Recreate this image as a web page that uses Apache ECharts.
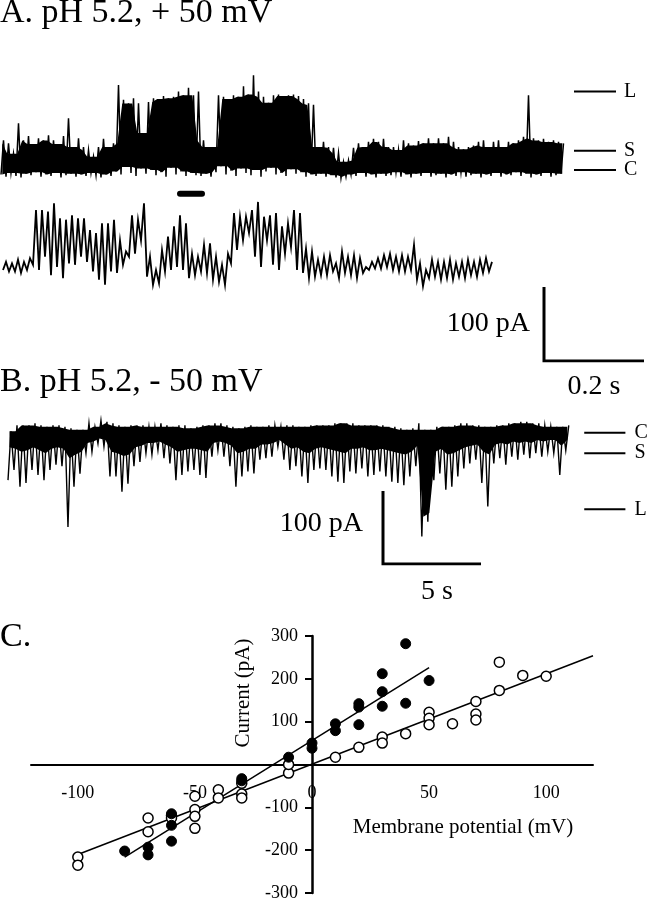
<!DOCTYPE html>
<html>
<head>
<meta charset="utf-8">
<title>Single channel records and I-V relation</title>
<script src="https://cdn.jsdelivr.net/npm/echarts@6/dist/echarts.min.js"></script>
<style>
  html, body { margin: 0; padding: 0; background: #fff; }
  #chart { width: 651px; height: 900px; }
</style>
</head>
<body>
<div id="chart"></div>
<script>
// ---------- data ----------
// A: +50 mV record, max / min current in each 0.01 s bin (pA, closed level = 0)
var traceAHi = [40,36,22,63,40,46,35,43,40,47,40,35,46,70,31,43,31,27,18,31,42,31,36,
  115,95,90,97,90,50,92,97,96,100,97,99,106,101,111,101,106,
  40,31,31,
  101,99,96,101,99,113,102,128,106,99,91,101,102,100,101,102,100,96,90,88,
  31,38,31,30,23,11,13,30,36,31,38,42,38,42,31,31,27,40,36,33,
  39,36,43,36,43,36,45,38,31,28,31,33,38,40,31,38,40,31,38,36,
  40,45,101,43,40,42,38,40,38,36];
var traceALo = [-6,-9,-4,-8,-10,-5,-7,-3,-9,-6,-8,-4,-10,-7,-5,-9,-6,-8,-4,-7,-10,-6,-8,
  -2,-6,4,-4,-8,2,-5,0,-7,-3,-9,3,-6,-2,-8,-4,-7,
  -8,-5,-9,
  -3,5,-6,-1,-8,2,-4,-7,0,-9,-2,3,-6,-4,-8,1,-5,-3,-9,-6,
  -8,-5,-9,-7,-10,-11,-9,-6,-8,-4,-9,-6,-10,-5,-8,-7,-3,-9,-6,-10,
  -5,-8,-4,-9,-7,-5,-10,-6,-8,-3,-9,-7,-5,-10,-6,-8,-4,-9,-6,-7,
  -3,-8,-5,-10,-6,-8,-4,-9,-7,-5];
var binA = 0.01;                 // s
var insetRange = [0.358, 0.402]; // s, part of A shown expanded (bar)

// A, expanded stretch: max / min per bin (pA)
var insetHi = [11,9,14,11,16,81,81,79,90,70, 68,74,70,70,54,50,63,63,68,40,
  25,74,68,90,18,0,27,45,59,74, 63,22,18,34,36,18,7,22,77,72,
  72,81,92,72,74,77,59,63,81,77, 29,25,14,18,20,9,25,18,20,16,
  4,11,16,20,22,18,20,18,34,9, 0,14,11,11,14,9,11,14,11,14,
  16,11];
var insetLo = [0,-2,-2,-4,0,7,0,18,-7,4, -11,9,7,18,11,-2,-13,-20,-2,-4,
  7,18,22,40,-9,-20,-18,-2,0,4, 0,-11,-7,-2,-4,-13,-16,-20,9,27,
  40,50,18,4,40,7,0,22,31,0, -4,-11,-9,-7,-7,-2,-11,-4,-7,-11,
  -4,0,2,2,4,0,-2,-2,0,-13, -22,-11,-9,-13,-11,-13,-9,-11,-7,-9,
  -4,-2];
var binInset = 0.68;             // ms

// B: -50 mV record, max / min current per bin and lower edge of the solid band (pA)
var traceBHi = [2,10,10,10,13,10,8,10,10,8, 6,4,4,13,8,17,15,13,10,8,
  10,10,10,8,8,13,10,8,10,10, 6,8,10,10,13,13,10,8,6,8,
  10,8,8,10,10,8,10,10,8,8, 10,10,10,10,13,13,13,13,10,10,
  10,10,10,8,8,6,4,6,13,4, 4,8,8,8,10,13,13,10,10,8,
  8,10,10,13,13,15,15,13,13,10, 8,8,8,10];
var traceBLo = [-65,-51,-74,-69,-51,-58,-65,-51,-44,-46, -129,-74,-56,-28,-26,-15,-19,-60,-60,-81,
  -70,-46,-40,-28,-30,-24,-35,-42,-65,-58, -53,-51,-58,-62,-33,-24,-33,-46,-74,-60,
  -53,-56,-37,-35,-33,-19,-37,-51,-46,-60, -69,-51,-49,-51,-60,-67,-69,-53,-56,-49,
  -60,-58,-53,-60,-67,-69,-72,-60,-46,-142, -122,-65,-56,-78,-74,-60,-49,-42,-37,-69,
  -101,-42,-35,-44,-33,-37,-30,-35,-28,-33, -26,-28,-58,-24];
var traceBBody = [-20,-22,-26,-24,-20,-24,-28,-22,-20,-22, -35,-30,-26,-14,-12,-8,-10,-26,-28,-32,
  -30,-20,-18,-14,-14,-12,-16,-20,-26,-24, -22,-22,-24,-26,-14,-12,-14,-18,-28,-26,
  -22,-22,-16,-16,-14,-10,-16,-22,-20,-26, -28,-22,-20,-22,-24,-26,-28,-22,-22,-20,
  -24,-24,-22,-24,-26,-28,-30,-26,-18,-115, -110,-26,-22,-30,-28,-24,-20,-18,-16,-26,
  -30,-16,-14,-16,-12,-14,-12,-14,-10,-12, -10,-10,-18,-10];
var binB = 0.306;                // s

// conductance levels (pA)
var levelNames = ['L', 'S', 'C'];
var levelA = [106, 26, 0];
var levelB = [-105, -28, 0];

// scale bars
var scaleA = [0.2, 100];         // s, pA
var scaleB = [5, 100];           // s, pA

// C: I-V relation
var openV = [-100,-100,-70,-70,-60,-60,-50,-50,-50,-50,-40,-40,-30,-30,-30,-10,-10,
  10,20,30,30,40,50,50,50,60,70,70,70,80,80,90,100];
var openI = [-216,-235,-125,-157,-119,-125,-74,-105,-121,-149,-59,-78,-44,-69,-78,-20,0,
  17,40,64,50,72,122,108,93,95,147,118,104,239,173,208,206];
var closedV = [-80,-70,-70,-60,-60,-60,-30,-30,-10,0,0,10,10,20,20,20,30,30,30,40,40,50];
var closedI = [-202,-193,-211,-115,-142,-179,-33,-38,17,50,38,95,79,142,134,93,212,170,136,282,143,196];
var openFitV = [-100, 120], openFitI = [-210, 254];
var closedFitV = [-80, 50], closedFitI = [-216, 226];
var xTicks = [-100, -50, 0, 50, 100];
var yTicks = [-300, -200, -100, 100, 200, 300];

// ---------- helpers ----------
var SERIF = '"Liberation Serif", "Times New Roman", serif';

// each bin drawn as a stroke between its min and max
function zigzag(hi, lo, dt) {
  var pts = [];
  for (var i = 0; i < hi.length; i++) {
    pts.push([i * dt, lo[i]]);
    pts.push([i * dt + dt / 2, hi[i]]);
  }
  return pts;
}
// solid body of a noisy record: the part every neighbouring bin covers
function bandSeries(gi, hi, lo, dt, bottom) {
  return {
    type: 'custom', xAxisIndex: gi, yAxisIndex: gi, data: [0], silent: true, z: 2,
    renderItem: function (params, api) {
      var top = [], bot = [];
      for (var i = 0; i < hi.length; i++) {
        var a = Math.max(0, i - 1), b = Math.min(hi.length - 1, i + 1);
        var h = Math.min(hi[a], hi[i], hi[b]);
        var l = bottom ? bottom[i] : Math.max(lo[a], lo[i], lo[b]);
        top.push(api.coord([i * dt + dt / 4, h]));
        bot.push(api.coord([i * dt + dt / 4, l]));
      }
      return {
        type: 'polygon',
        shape: { points: top.concat(bot.reverse()) },
        style: { fill: '#000' }
      };
    }
  };
}
function pairs(xs, ys) {
  return xs.map(function (x, i) { return [x, ys[i]]; });
}
function hiddenAxis(gi, min, max) {
  return { type: 'value', gridIndex: gi, min: min, max: max, show: false };
}
function trace(gi, data, w) {
  return {
    type: 'line', xAxisIndex: gi, yAxisIndex: gi, data: data,
    symbol: 'none', sampling: null, silent: true, z: 3,
    lineStyle: { color: '#000', width: w, join: 'miter' }
  };
}
function box(left, top, width, height) {
  return { left: left, top: top, width: width, height: height,
    containLabel: false, outerBoundsMode: 'none' };
}
function txt(s, x, y, size, align, rot) {
  return {
    type: 'text', x: x, y: y, rotation: rot || 0, silent: true,
    style: { text: s, x: 0, y: 0, font: size + 'px ' + SERIF, fill: '#000',
      textAlign: align || 'left', textVerticalAlign: 'middle' }
  };
}

var levelStartA = 1.146, levelEndA = 1.23;
var levelStartB = 29.4, levelEndB = 31.5;

var series = [
  bandSeries(0, traceAHi, traceALo, binA),
  trace(0, zigzag(traceAHi, traceALo, binA), 1.5),
  Object.assign(trace(0, [[insetRange[0], -32], [insetRange[1], -32]], 6),
    { lineStyle: { color: '#000', width: 6, cap: 'round' } }),
  trace(1, zigzag(insetHi, insetLo, binInset), 1.8),
  bandSeries(2, traceBHi, traceBLo, binB, traceBBody),
  trace(2, zigzag(traceBHi, traceBLo, binB), 1.4)
];
levelA.forEach(function (v) {
  series.push(trace(0, [[levelStartA, v], [levelEndA, v]], 2));
});
levelB.forEach(function (v) {
  series.push(trace(2, [[levelStartB, v], [levelEndB, v]], 2));
});
series.push(trace(3, [[0, scaleA[1]], [0, 0], [scaleA[0], 0]], 3));
series.push(trace(4, [[0, scaleB[1]], [0, 0], [scaleB[0], 0]], 3));

// C
series.push(Object.assign(trace(5, pairs(openFitV, openFitI), 1.5), { z: 1 }));
series.push(Object.assign(trace(5, pairs(closedFitV, closedFitI), 1.5), { z: 1 }));
series.push({
  type: 'scatter', xAxisIndex: 5, yAxisIndex: 5, data: pairs(openV, openI),
  symbol: 'circle', symbolSize: 10, z: 3, silent: true,
  itemStyle: { color: '#fff', borderColor: '#000', borderWidth: 1.5, opacity: 1 }
});
series.push({
  type: 'scatter', xAxisIndex: 5, yAxisIndex: 5, data: pairs(closedV, closedI),
  symbol: 'circle', symbolSize: 10, z: 4, silent: true,
  itemStyle: { color: '#000', borderColor: '#000', borderWidth: 1, opacity: 1 }
});

var axisFont = { color: '#000', fontFamily: SERIF, fontSize: 18 };

var option = {
  animation: false,
  backgroundColor: '#fff',
  grid: [
    box(1, 59, 650, 140.6),      // 0 A record
    box(3, 188.6, 492, 111),     // 1 A expanded
    box(8, 403.5, 646.8, 146),   // 2 B record
    box(544, 287, 100, 74),      // 3 A scale bar
    box(383, 491, 98, 73),       // 4 B scale bar
    box(31, 636, 562, 257),      // 5 C data
    box(31, 636, 562, 128.5),    // 6 C voltage axis (sits on I = 0)
    box(312, 636, 281, 257)      // 7 C current axis (sits on V = 0)
  ],
  xAxis: [
    hiddenAxis(0, 0, 1.3),
    hiddenAxis(1, 0, insetHi.length * binInset),
    hiddenAxis(2, 0, 33),
    hiddenAxis(3, 0, scaleA[0]),
    hiddenAxis(4, 0, scaleB[0]),
    hiddenAxis(5, -120, 120),
    {
      type: 'value', gridIndex: 6, min: -120, max: 120, position: 'bottom',
      axisLine: { onZero: false, lineStyle: { color: '#000', width: 2 } },
      axisTick: { show: false },
      axisLabel: Object.assign({ customValues: xTicks, margin: 20 }, axisFont),
      splitLine: { show: false }
    },
    hiddenAxis(7, 0, 120)
  ],
  yAxis: [
    hiddenAxis(0, -40, 150),
    hiddenAxis(1, -40, 110),
    hiddenAxis(2, -160, 40),
    hiddenAxis(3, 0, scaleA[1]),
    hiddenAxis(4, 0, scaleB[1]),
    hiddenAxis(5, -300, 300),
    hiddenAxis(6, 0, 300),
    {
      type: 'value', gridIndex: 7, min: -300, max: 300, position: 'left',
      axisLine: { show: true, onZero: false, lineStyle: { color: '#000', width: 2.5 } },
      axisTick: { show: true, customValues: yTicks, length: 7, lineStyle: { color: '#000', width: 2 } },
      axisLabel: Object.assign({ customValues: yTicks, margin: 14 }, axisFont),
      splitLine: { show: false }
    }
  ],
  series: series
};

var chart = echarts.init(document.getElementById('chart'));
chart.setOption(option);

// text placed from the data positions
var g = [
  txt('A. pH 5.2, + 50 mV', 0, 13, 34),
  txt('B. pH 5.2, - 50 mV', 0, 382, 34),
  txt('C.', 0, 637, 34)
];
levelNames.forEach(function (n, i) {
  var pa = chart.convertToPixel({ gridIndex: 0 }, [levelEndA, levelA[i]]);
  g.push(txt(n, pa[0] + 8, pa[1], 20));
  var pb = chart.convertToPixel({ gridIndex: 2 }, [levelEndB, levelB[i]]);
  g.push(txt(n, pb[0] + 9, pb[1], 20));
});
var sa0 = chart.convertToPixel({ gridIndex: 3 }, [0, 0]);
var sa1 = chart.convertToPixel({ gridIndex: 3 }, [scaleA[0], scaleA[1]]);
g.push(txt(scaleA[1] + ' pA', sa0[0] - 14, (sa0[1] + sa1[1]) / 2, 28, 'right'));
g.push(txt(scaleA[0] + ' s', (sa0[0] + sa1[0]) / 2, sa0[1] + 26, 28, 'center'));
var sb0 = chart.convertToPixel({ gridIndex: 4 }, [0, 0]);
var sb1 = chart.convertToPixel({ gridIndex: 4 }, [scaleB[0], scaleB[1]]);
g.push(txt(scaleB[1] + ' pA', sb0[0] - 20, (sb0[1] + sb1[1]) / 2 - 4, 28, 'right'));
g.push(txt(scaleB[0] + ' s', (sb0[0] + sb1[0]) / 2 + 5, sb0[1] + 28, 28, 'center'));
g.push(txt('Current (pA)', 243, 693, 21, 'center', Math.PI / 2));
g.push(txt('Membrane potential (mV)', 463, 827, 21, 'center'));
chart.setOption({ graphic: g });

window.addEventListener('resize', function () { chart.resize(); });
</script>
</body>
</html>
